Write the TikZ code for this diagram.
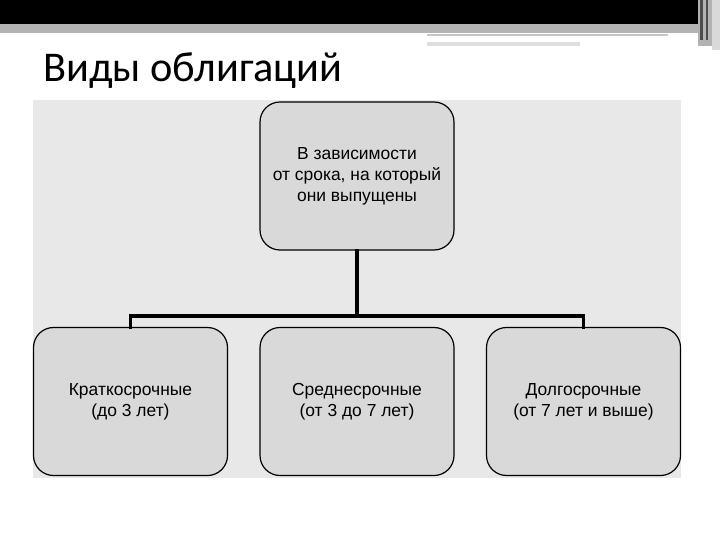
\documentclass[tikz,border=0pt]{standalone}
\usepackage{fontspec}
\setmainfont{Liberation Sans}
\newfontfamily\titlefont{Carlito}
\begin{document}
\begin{tikzpicture}[x=1bp,y=-1bp,
  box/.style={draw=black,line width=1.2bp,fill=boxgray,rounded corners=20bp,minimum width=194bp,minimum height=148bp,inner sep=0pt,align=center,font=\fontsize{17.5}{21}\selectfont},
  conn/.style={line width=3.5bp,line cap=rect}]
\definecolor{boxgray}{HTML}{D9D9D9}
\definecolor{bggray}{HTML}{E8E8E8}
\definecolor{bandgray}{HTML}{B3B3B3}
\useasboundingbox (0,0) rectangle (720,540);
\fill[white] (0,0) rectangle (720,540);
% top decoration
\fill[black] (0,0) rectangle (698,24);
\fill[bandgray] (0,24) rectangle (700,33);
\fill[gray!60] (698,0) rectangle (712,46);
\fill[gray!30] (712,0) rectangle (720,50);
\fill[black!70] (700,0) rectangle (703,40);
\fill[black!70] (706,0) rectangle (708,40);
\fill[gray!45] (427,34) rectangle (668,36);
\fill[gray!25] (427,42) rectangle (580,46);
% title
\node[anchor=base west,inner sep=0pt,font=\titlefont\fontsize{42.5}{44}\selectfont] (title) at (43,82) {Виды облигаций};
% background
\fill[bggray] (33,100) rectangle (681,478);
% boxes
\node[box] (top) at (357,176) {В зависимости\\от срока, на который\\они выпущены};
\node[box] (b1) at (130.5,401.5) {Краткосрочные\\(до 3 лет)};
\node[box] (b2) at (357,401.5) {Среднесрочные\\(от 3 до 7 лет)};
\node[box] (b3) at (583.5,401.5) {Долгосрочные\\(от 7 лет и выше)};
\coordinate (j) at (357,316);
\draw[conn] (top.south) -- (j);
\draw[conn] (b1.north) -- (b1.north |- j) -- (b3.north |- j) -- (b3.north);
\end{tikzpicture}
\end{document}
